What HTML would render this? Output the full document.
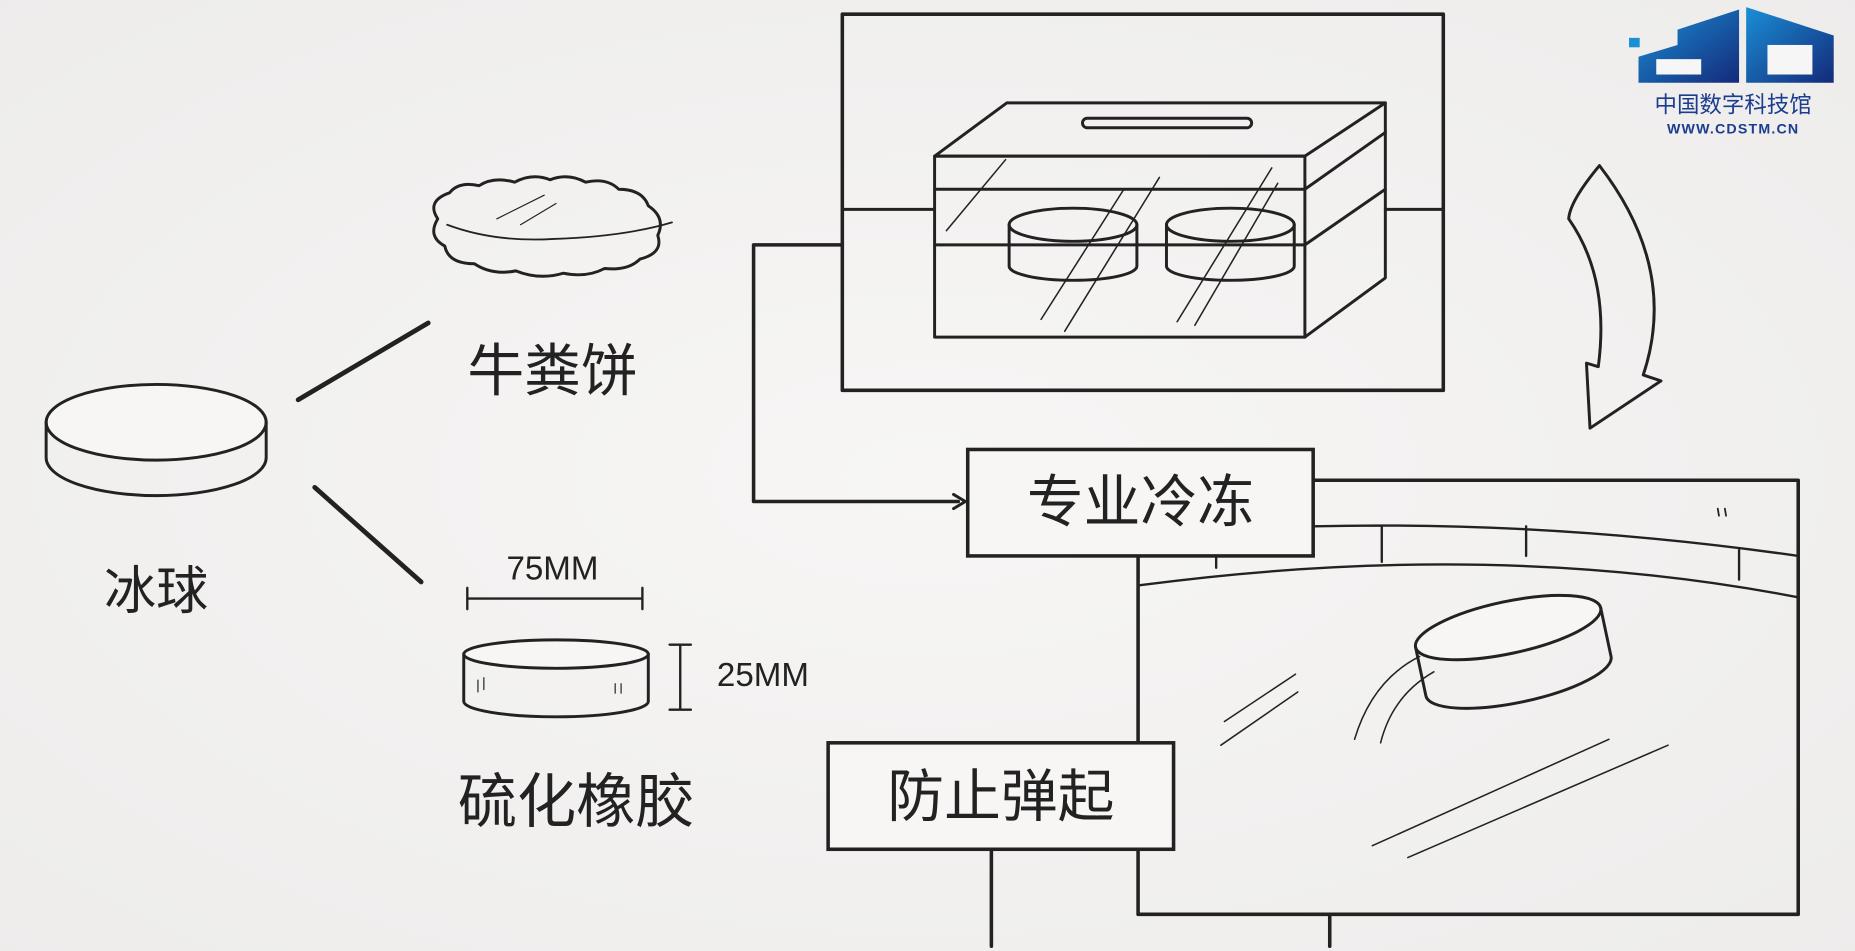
<!DOCTYPE html>
<html><head><meta charset="utf-8"><style>
html,body{margin:0;padding:0;width:1855px;height:951px;overflow:hidden;background:#f3f2f1}
svg{display:block}
text{font-family:"Liberation Sans","Noto Sans CJK SC",sans-serif;fill:#222}
</style></head><body>
<svg width="1855" height="951" viewBox="0 0 1568 804" preserveAspectRatio="none" xmlns="http://www.w3.org/2000/svg">
<defs>
<radialGradient id="bg" cx="0.5" cy="0.5" r="0.8"><stop offset="0" stop-color="#f7f6f5"/><stop offset="1" stop-color="#ecebea"/></radialGradient>
<linearGradient id="lg" x1="0" y1="0" x2="1" y2="1"><stop offset="0" stop-color="#1a8fd6"/><stop offset="1" stop-color="#142a7a"/></linearGradient>
</defs>
<rect width="1568" height="804" fill="url(#bg)"/>
<g fill="none" stroke="#222" stroke-width="2.5" stroke-linecap="round" stroke-linejoin="round">
<!-- left puck -->
<ellipse cx="132" cy="357" rx="93" ry="32" fill="#f7f6f5"/>
<path d="M39 357 V387 A93 32 0 0 0 225 387 V357"/>
<line x1="252" y1="338" x2="362" y2="273" stroke-width="4"/>
<line x1="266" y1="412" x2="356" y2="492" stroke-width="4"/>
<!-- dung cake -->
<path d="M370 185 q-10 -15 10 -22 q8 -10 25 -6 q12 -8 30 -3 q15 -8 30 -2 q15 -6 30 2 q18 -4 28 6 q20 0 25 14 q15 10 8 25 q5 15 -15 20 q-10 10 -30 8 q-15 8 -35 4 q-20 6 -40 -2 q-20 4 -35 -6 q-22 0 -25 -15 q-15 -8 -6 -23z"/>
<path d="M378 190 q40 15 90 12 q60 -2 100 -14" stroke-width="1.5"/>
<path d="M420 185 l40 -20 M440 190 l30 -18" stroke-width="1"/>
<!-- dimension -->
<path d="M395 506 H543 M395 497 V515 M543 497 V515" stroke-width="2"/>
<path d="M575 545 V600 M566 545 H584 M566 600 H584" stroke-width="2"/>
<!-- rubber puck -->
<ellipse cx="470" cy="553" rx="78" ry="12" fill="#f7f6f5"/>
<path d="M392 553 V593 A78 13 0 0 0 548 593 V553"/>
<path d="M404 575 v10 M409 573 v10 M520 578 v8 M525 578 v8" stroke-width="1"/>
<!-- fridge frame -->
<rect x="712" y="12" width="508" height="318" stroke-width="3"/>
<path d="M790 132 L851 87 H1171 L1103 132 Z"/>
<rect x="790" y="132" width="313" height="153"/>
<path d="M1103 285 L1171 235 V87"/>
<path d="M790 160 H1103 L1171 112 M790 207 H1103 L1171 160"/>
<path d="M712 177 H790 M1171 177 H1220"/>
<rect x="915" y="100" width="143" height="8" rx="4"/>
<ellipse cx="907" cy="190" rx="54" ry="14"/><path d="M853 190 V225 A54 12 0 0 0 961 225 V190"/>
<ellipse cx="1040" cy="190" rx="54" ry="14"/><path d="M986 190 V225 A54 12 0 0 0 1094 225 V190"/>
<path d="M800 195 l50 -60 M880 270 l70 -110 M900 280 l80 -130 M995 272 l80 -130 M1010 275 l70 -120" stroke-width="1.3"/>
<!-- connector -->
<path d="M712 207 H637 V424 H810" stroke-width="3"/>
<path d="M806 418 l10 6 l-10 6" stroke-width="2.5"/>
<!-- curved arrow -->
<path d="M1352 140 q-25 30 -26 45 q35 50 25 125 l-10 -3 l3 55 l60 -40 l-15 -5 q30 -90 -37 -177z" stroke-width="2.5"/>
<!-- photo frame -->
<rect x="962" y="406" width="558" height="367" stroke-width="3"/>
<path d="M1110 445 q200 -5 410 25 M962 495 q300 -40 558 10 M1028 480 v-20 M1168 475 v-30 M1290 470 v-25 M1470 490 v-25" stroke-width="2"/>
<path d="M1452 430 l1 6 M1458 430 l1 6" stroke-width="1.5"/>
<g transform="rotate(-12 1280 555)"><ellipse cx="1280" cy="530" rx="80" ry="22" fill="#f7f6f5"/><path d="M1200 530 V572 A80 22 0 0 0 1360 572 V530"/></g>
<path d="M1200 555 q-40 20 -55 70 M1212 568 q-35 20 -45 60 M1035 610 l60 -40 M1032 630 l65 -45 M1160 715 l200 -90 M1190 725 l220 -95" stroke-width="1.3"/>
<!-- bottom connector lines -->
<path d="M838 718 V800 M1124 773 V800" stroke-width="3"/>
</g>
<!-- label boxes -->
<rect x="818" y="380" width="292" height="90" fill="#f7f6f5" stroke="#222" stroke-width="3"/>
<rect x="700" y="628" width="292" height="90" fill="#f7f6f5" stroke="#222" stroke-width="3"/>
<text x="964" y="441" font-size="48" text-anchor="middle">专业冷冻</text>
<text x="846" y="690" font-size="48" text-anchor="middle">防止弹起</text>
<text x="132" y="515" font-size="44" text-anchor="middle">冰球</text>
<text x="467" y="330" font-size="48" text-anchor="middle">牛粪饼</text>
<text x="487" y="695" font-size="50" text-anchor="middle">硫化橡胶</text>
<text x="467" y="490" font-size="28" text-anchor="middle">75MM</text>
<text x="606" y="580" font-size="28">25MM</text>
<!-- logo -->
<g>
<rect x="1377" y="32" width="9" height="8" fill="#1a8fd6"/>
<path d="M1385 70 V48 L1418 38 V25 L1470 8 V70 Z" fill="url(#lg)"/>
<path d="M1476 6 L1550 30 V70 H1476 Z" fill="url(#lg)"/>
<rect x="1400" y="50" width="38" height="13" fill="#f6f6f6"/>
<rect x="1494" y="38" width="38" height="25" fill="#f6f6f6"/>
<text x="1465" y="95" font-size="19" text-anchor="middle" style="fill:#1b3d8f">中国数字科技馆</text>
<text x="1465" y="113" font-size="12" font-weight="bold" text-anchor="middle" style="fill:#1b3d8f;letter-spacing:1px">WWW.CDSTM.CN</text>
</g>
</svg>
</body></html>
